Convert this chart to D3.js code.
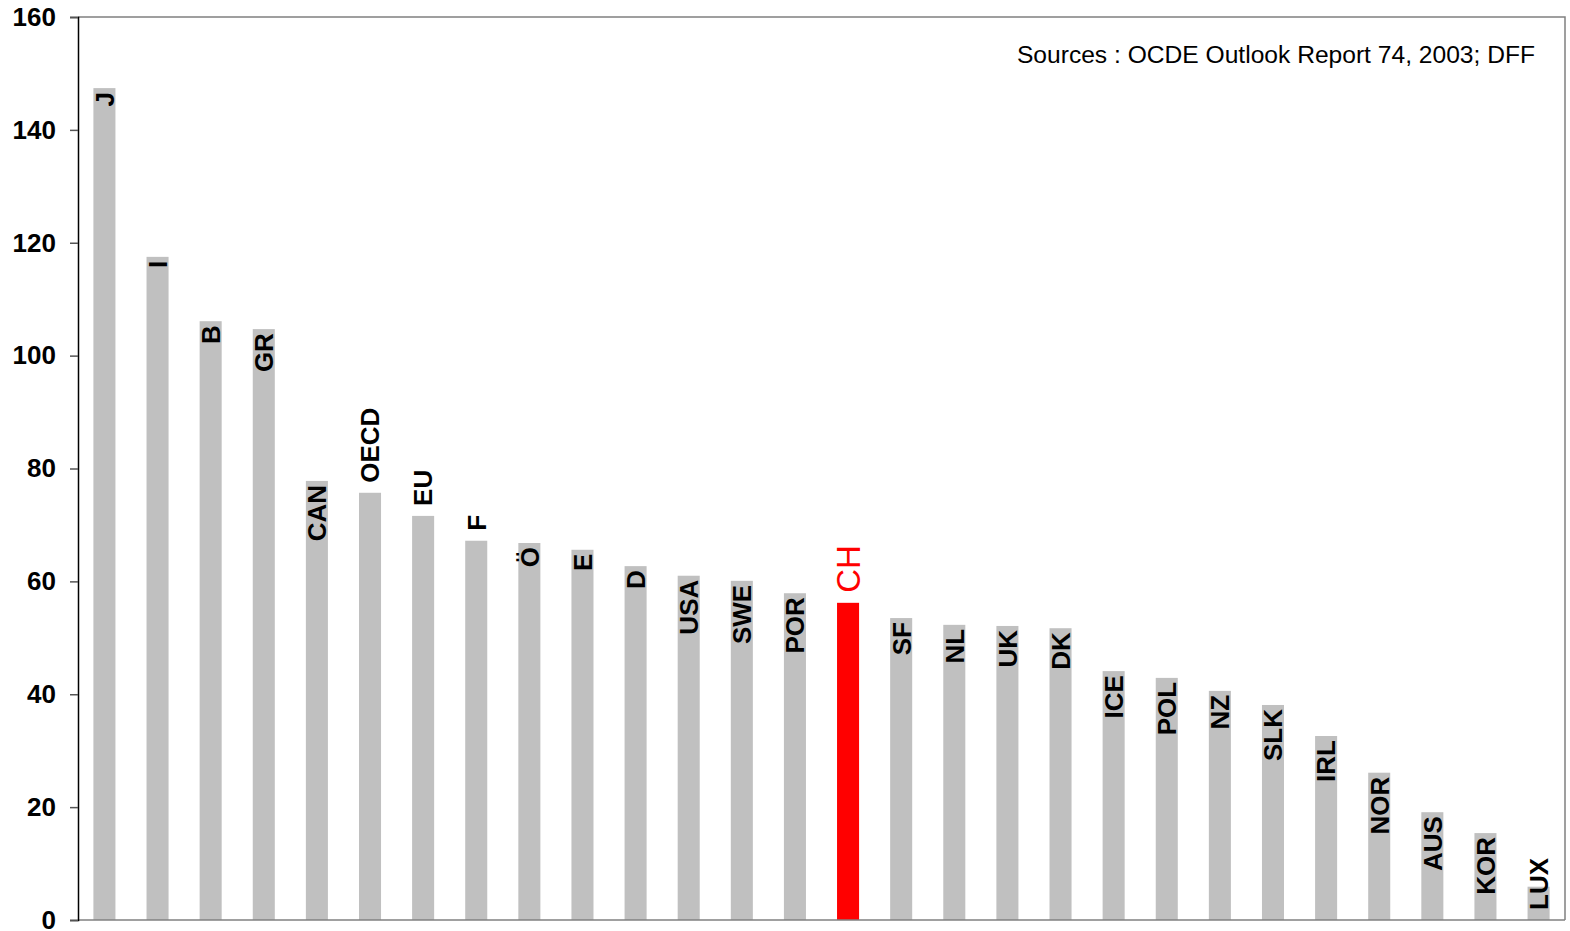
<!DOCTYPE html>
<html>
<head>
<meta charset="utf-8">
<script src="https://cdn.jsdelivr.net/npm/d3@7"></script>
<style>
  html, body { margin: 0; padding: 0; background: #fff; }
  svg { display: block; }
</style>
</head>
<body>
<svg id="chart" width="1570" height="931"></svg>
<script>
const categories = ["J","I","B","GR","CAN","OECD","EU","F","Ö","E","D","USA","SWE","POR","CH","SF","NL","UK","DK","ICE","POL","NZ","SLK","IRL","NOR","AUS","KOR","LUX"];
const values = [147.4,117.5,106.1,104.7,77.8,75.7,71.6,67.2,66.8,65.6,62.7,61.0,60.1,57.9,56.2,53.5,52.3,52.1,51.7,44.1,42.9,40.6,38.1,32.6,26.1,19.1,15.4,5.9];
const labelPlacement = ["in","in","in","in","in","above","above","above","in","in","in","in","in","in","above","in","in","in","in","in","in","in","in","in","in","in","in","in"];
const highlight = "CH";
const yTicks = [0,20,40,60,80,100,120,140,160];
const sourceText = "Sources : OCDE Outlook Report 74, 2003; DFF";

const svg = d3.select("#chart");
const m = {left: 78, right: 1565, top: 17, bottom: 920};

const x = d3.scaleBand().domain(categories).range([m.left, m.right]).paddingInner(0.585).paddingOuter(0.29);
const y = d3.scaleLinear().domain([0, 160]).range([m.bottom, m.top]);

// frame (top & right)
svg.append("path")
  .attr("d", `M${m.left},${m.top}H${m.right}V${m.bottom}`)
  .attr("fill", "none").attr("stroke", "#808080").attr("stroke-width", 1.5);

// bars
const data = categories.map((c, i) => ({c, v: values[i], p: labelPlacement[i]}));
svg.append("g").selectAll("rect").data(data).join("rect")
  .attr("x", d => x(d.c))
  .attr("width", x.bandwidth())
  .attr("y", d => y(d.v))
  .attr("height", d => y(0) - y(d.v))
  .attr("fill", d => d.c === highlight ? "#ff0000" : "#c0c0c0");

// bottom axis line
svg.append("line").attr("x1", m.left).attr("x2", m.right).attr("y1", m.bottom).attr("y2", m.bottom)
  .attr("stroke", "#808080").attr("stroke-width", 1.5);

// y axis
const yAxis = d3.axisLeft(y).tickValues(yTicks).tickSize(8).tickPadding(14).tickFormat(d3.format("d"));
const gy = svg.append("g").attr("transform", `translate(${m.left},0)`).call(yAxis);
gy.select(".domain").attr("stroke", "#000").attr("stroke-width", 1.5);
gy.selectAll(".tick line").attr("stroke", "#555").attr("stroke-width", 1.5);
gy.selectAll(".tick text")
  .attr("font-family", "'Liberation Sans', Arial, sans-serif")
  .attr("font-size", 26).attr("font-weight", "bold").attr("fill", "#000");

// labels
const labels = svg.append("g");
data.forEach(d => {
  const isH = d.c === highlight;
  const fs = isH ? 33 : 26;
  const t = labels.append("text")
    .attr("font-family", "'Liberation Sans', Arial, sans-serif")
    .attr("font-size", fs)
    .attr("font-weight", isH ? "normal" : "bold")
    .attr("fill", isH ? "#ff0000" : "#000")
    .text(d.c);
  const len = t.node().getComputedTextLength();
  const cx = x(d.c) + x.bandwidth() / 2 + fs * 0.36;
  let topY;
  if (d.p === "above") {
    topY = y(d.v) - 10 - len;
  } else {
    topY = y(d.v) + 4;
    if (topY + len > m.bottom - 10) topY = m.bottom - 10 - len;
  }
  t.attr("text-anchor", "end")
   .attr("transform", `translate(${cx},${topY}) rotate(-90)`);
});

// source
svg.append("text")
  .attr("x", 1535).attr("y", 63)
  .attr("text-anchor", "end")
  .attr("font-family", "'Liberation Sans', Arial, sans-serif")
  .attr("font-size", 24.6).attr("fill", "#000")
  .text(sourceText);
</script>
</body>
</html>
